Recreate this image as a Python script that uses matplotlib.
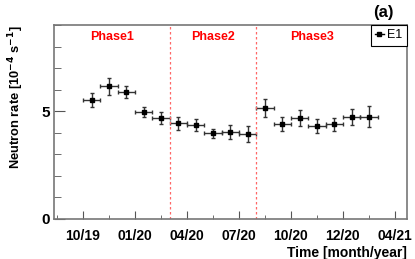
import numpy as np
import matplotlib.pyplot as plt
from matplotlib.ticker import MultipleLocator
from matplotlib.lines import Line2D

plt.rcParams['font.family'] = ['Liberation Sans', 'DejaVu Sans']

# Month index (0 = Oct 2019), one point per month
months = [0.5, 1.5, 2.5, 3.5, 4.5,
          5.5, 6.5, 7.5, 8.5, 9.5,
          10.5, 11.5, 12.5, 13.5, 14.5, 15.5, 16.5]
rate = [5.52, 6.15, 5.89, 4.97, 4.69,
        4.44, 4.36, 3.97, 4.04, 3.94,
        5.16, 4.41, 4.69, 4.33, 4.39, 4.73, 4.75]
rate_err = [0.31, 0.39, 0.27, 0.23, 0.27,
            0.29, 0.26, 0.22, 0.32, 0.38,
            0.41, 0.32, 0.37, 0.32, 0.29, 0.39, 0.50]
month_err = [0.5] * len(months)

tick_pos = [0, 3, 6, 9, 12, 15, 18]
tick_labels = ['10/19', '01/20', '04/20', '07/20', '10/20', '12/20', '04/21']

phase_bounds = [5, 10]
phase_names = ['Phase1', 'Phase2', 'Phase3']
phase_x = [1.67, 7.5, 13.2]

fig = plt.figure(figsize=(4.15, 2.59), dpi=100)
ax = fig.add_axes([54/415, 40/259, 353/415, 194/259])

ax.errorbar(months, rate, xerr=month_err, yerr=rate_err, fmt='s', color='black',
            ms=2.8, ecolor='#333333', elinewidth=1, capsize=1.5, capthick=1)

for b in phase_bounds:
    ax.axvline(b, color='#ff6666', ls=(0, (2, 2)), lw=0.9)
for name, px in zip(phase_names, phase_x):
    ax.text(px, 8.45, name, color='red', fontweight='bold', fontsize=9,
            ha='center', va='center')

ax.set_xlim(-1.67, 18.7)
ax.set_ylim(0, 9)
ax.set_xticks(tick_pos)
ax.set_xticklabels(tick_labels, fontweight='bold', fontsize=10)
ax.xaxis.set_minor_locator(MultipleLocator(1.5))
ax.set_yticks([0, 5])
ax.set_yticklabels(['0', '5'], fontweight='bold', fontsize=11)
ax.yaxis.set_minor_locator(MultipleLocator(1))

for s in ax.spines.values():
    s.set_color('#777777')
    s.set_linewidth(1.2)
ax.tick_params(which='both', direction='in', color='#555555', top=False, right=False)
ax.tick_params(axis='x', which='major', length=6, pad=7)
ax.tick_params(axis='x', which='minor', length=3)
ax.tick_params(axis='y', which='major', length=8, pad=3)
ax.tick_params(axis='y', which='minor', length=5)

ax.set_xlabel('Time [month/year]', fontweight='bold', fontsize=10, loc='right', labelpad=2)
ax.set_ylabel(r'Neutron rate [10$^{\mathbf{-4}}$ s$^{\mathbf{-1}}$]', fontweight='bold',
              fontsize=9.3, loc='top', labelpad=11)

handle = Line2D([], [], color='black', marker='s', ms=2.5, lw=1)
leg = ax.legend([handle], ['E1'], loc='upper right', fontsize=9, frameon=True,
                fancybox=False, borderaxespad=0, handlelength=0.7,
                handletextpad=0.3, borderpad=0.35, framealpha=1)
leg.get_frame().set_edgecolor('black')
leg.get_frame().set_linewidth(0.8)

fig.text(383/415, 1 - 13/259, '(a)', fontweight='bold', fontsize=12, ha='center', va='center')

fig.savefig('out.png', dpi=100)
